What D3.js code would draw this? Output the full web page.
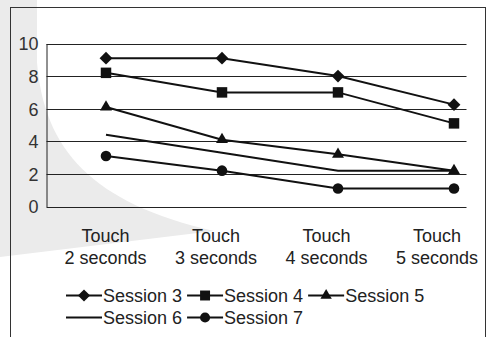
<!DOCTYPE html>
<html>
<head>
<meta charset="utf-8">
<script src="https://cdn.jsdelivr.net/npm/d3@7"></script>
<style>
  html, body { margin: 0; padding: 0; background: #fff; }
  svg { display: block; font-family: "Liberation Sans", Arial, sans-serif; }
</style>
</head>
<body>
<svg id="chart" width="486" height="337"></svg>
<script>
// Touch duration categories (two-line labels)
const categories = ["Touch 2 seconds", "Touch 3 seconds", "Touch 4 seconds", "Touch 5 seconds"];
const categoryLines = [["Touch", "2 seconds"], ["Touch", "3 seconds"], ["Touch", "4 seconds"], ["Touch", "5 seconds"]];

// Series values per session
const session3 = [9.1, 9.1, 8.0, 6.25];
const session4 = [8.2, 7.0, 7.0, 5.1];
const session5 = [6.1, 4.1, 3.2, 2.2];
const session6 = [4.4, 3.3, 2.2, 2.2];
const session7 = [3.1, 2.2, 1.1, 1.1];

const seriesNames = ["Session 3", "Session 4", "Session 5", "Session 6", "Session 7"];
const seriesValues = [session3, session4, session5, session6, session7];
const seriesSymbols = ["diamond", "square", "triangle", "none", "circle"];

const yTicks = [0, 2, 4, 6, 8, 10];

const svg = d3.select("#chart");
const W = 486, H = 337;
const ink = "#111";

// Background mark: pale grey arrow shape behind the chart
svg.append("path")
  .attr("d", "M0,0 H37 V62 C44,150 92,203 214,231 L0,257 Z")
  .attr("fill", "#ebebeb");

// Outer frame
svg.append("rect")
  .attr("x", 10.5).attr("y", 7.5)
  .attr("width", 475).attr("height", 340)
  .attr("fill", "none").attr("stroke", "#333").attr("stroke-width", 1);

// Plot area
const plot = { left: 46.5, right: 466.5, top: 43.5, bottom: 206.5 };

const y = d3.scaleLinear().domain([0, 10]).range([plot.bottom, plot.top]);
const x = d3.scalePoint().domain(categories).range([106, 454]);
const labelX = d3.scalePoint().domain(categories).range([105.5, 437]);

// Horizontal gridlines
svg.append("g").selectAll("line")
  .data(yTicks)
  .join("line")
  .attr("x1", plot.left).attr("x2", plot.right)
  .attr("y1", d => Math.round(y(d)) + 0.5).attr("y2", d => Math.round(y(d)) + 0.5)
  .attr("stroke", "#222").attr("stroke-width", 1);

// Y axis
const yAxis = svg.append("g")
  .attr("transform", `translate(${plot.left},0)`)
  .call(d3.axisLeft(y).tickValues(yTicks).tickSize(0).tickPadding(8).tickFormat(d3.format("d")));
yAxis.select(".domain").attr("stroke", "#222").attr("stroke-width", 1);
yAxis.selectAll("text")
  .attr("font-size", 18).attr("fill", "#333")
  .attr("font-family", "Liberation Sans, Arial, sans-serif")
  .attr("dy", "0.35em");

// Category labels
const xLab = svg.append("g").selectAll("text")
  .data(categories)
  .join("text")
  .attr("text-anchor", "middle")
  .attr("font-size", 18)
  .attr("fill", "#222");
xLab.each(function (d, i) {
  const t = d3.select(this);
  categoryLines[i].forEach((ln, k) => {
    t.append("tspan")
      .attr("x", labelX(d))
      .attr("y", 242 + k * 21.5)
      .text(ln);
  });
});

// Marker shapes
function symbolPath(kind) {
  switch (kind) {
    case "diamond": return d3.symbol().type(d3.symbolDiamond2).size(105)();
    case "square": return d3.symbol().type(d3.symbolSquare).size(110)();
    case "triangle": return d3.symbol().type(d3.symbolTriangle).size(62)();
    case "circle": return d3.symbol().type(d3.symbolCircle).size(88)();
    default: return null;
  }
}

const line = d3.line()
  .x((d, i) => x(categories[i]))
  .y(d => y(d));

seriesValues.forEach((vals, s) => {
  const g = svg.append("g");
  g.append("path")
    .attr("d", line(vals))
    .attr("fill", "none")
    .attr("stroke", ink)
    .attr("stroke-width", 2);
  const p = symbolPath(seriesSymbols[s]);
  if (p) {
    g.selectAll("path.mk")
      .data(vals)
      .join("path")
      .attr("class", "mk")
      .attr("d", p)
      .attr("transform", (d, i) => `translate(${x(categories[i])},${y(d)})`)
      .attr("fill", ink);
  }
});

// Legend
const legend = svg.append("g");
const legendRows = [[0, 1, 2], [3, 4]];
legendRows.forEach((row, r) => {
  let cx = 66;
  const cy = 295.5 + r * 22;
  row.forEach(s => {
    const item = legend.append("g");
    item.append("line")
      .attr("x1", cx).attr("x2", cx + 36)
      .attr("y1", cy).attr("y2", cy)
      .attr("stroke", ink).attr("stroke-width", 2);
    const p = symbolPath(seriesSymbols[s]);
    if (p) {
      item.append("path")
        .attr("d", p)
        .attr("transform", `translate(${cx + 18},${cy}) scale(0.95)`)
        .attr("fill", ink);
    }
    const txt = item.append("text")
      .attr("x", cx + 37)
      .attr("y", cy + 6.5)
      .attr("font-size", 18)
      .attr("fill", "#222")
      .text(seriesNames[s]);
    cx += 37 + txt.node().getComputedTextLength() + 5;
  });
});
</script>
</body>
</html>
